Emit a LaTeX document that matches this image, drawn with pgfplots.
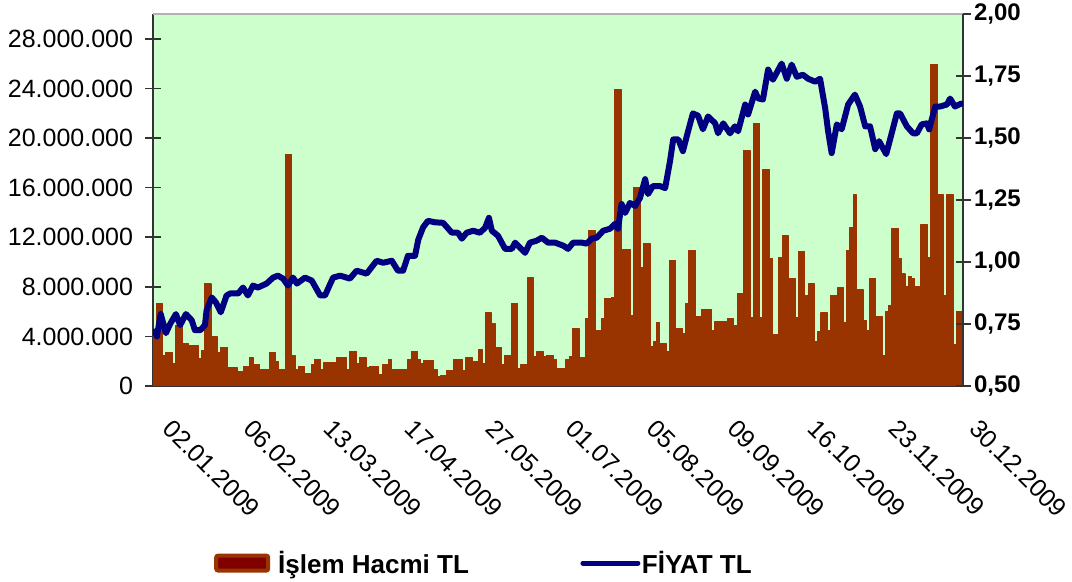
\documentclass[border=0pt]{standalone}
\usepackage{fontspec}
\setmainfont{Liberation Sans}
\usepackage{pgfplots}
\pgfplotsset{compat=1.18}
\usepackage{pgfplotstable}
\definecolor{bgc}{HTML}{CCFFCC}
\definecolor{barc}{HTML}{993300}
\definecolor{innerc}{HTML}{800000}
\definecolor{navyc}{HTML}{000080}
\pgfplotstableread{
i v
0 3950000
1 6680000
2 6680000
3 2490000
4 2670000
5 2670000
6 1800000
7 4890000
8 4890000
9 3420000
10 3420000
11 3290000
12 3290000
13 3290000
14 2220000
15 2890000
16 8230000
17 8230000
18 3950000
19 3950000
20 2670000
21 3100000
22 3100000
23 1510000
24 1510000
25 1510000
26 1160000
27 1160000
28 1560000
29 1560000
30 2300000
31 1740000
32 1740000
33 1290000
34 1290000
35 1290000
36 2670000
37 2670000
38 1960000
39 1290000
40 1290000
41 18660000
42 18660000
43 2490000
44 1290000
45 1560000
46 1560000
47 1020000
48 1020000
49 1690000
50 2140000
51 2140000
52 1290000
53 1870000
54 1870000
55 1870000
56 1870000
57 2300000
58 2300000
59 2300000
60 1290000
61 2800000
62 2800000
63 1820000
64 2300000
65 2300000
66 1510000
67 1560000
68 1560000
69 1560000
70 900000
71 1690000
72 1690000
73 2140000
74 1290000
75 1290000
76 1290000
77 1290000
78 1290000
79 2140000
80 2800000
81 2800000
82 2140000
83 1820000
84 2080000
85 2030000
86 2030000
87 1330000
88 750000
89 800000
90 800000
91 1280000
92 1280000
93 2140000
94 2140000
95 2140000
96 1280000
97 2300000
98 2300000
99 1960000
100 1960000
101 2940000
102 1820000
103 5880000
104 5880000
105 5030000
106 3100000
107 3100000
108 1690000
109 2490000
110 2490000
111 6680000
112 6680000
113 1420000
114 1690000
115 1690000
116 8710000
117 8710000
118 2350000
119 2750000
120 2750000
121 2350000
122 2430000
123 2430000
124 2140000
125 1420000
126 1420000
127 1420000
128 2140000
129 2350000
130 4650000
131 4650000
132 2270000
133 2270000
134 5430000
135 12570000
136 12570000
137 4490000
138 4490000
139 5430000
140 7030000
141 7030000
142 7160000
143 23900000
144 23900000
145 11040000
146 11040000
147 11040000
148 5690000
149 16040000
150 16040000
151 9570000
152 11500000
153 11500000
154 3150000
155 3550000
156 5110000
157 3420000
158 3420000
159 2750000
160 10100000
161 10100000
162 4620000
163 4620000
164 4220000
165 6680000
166 10900000
167 10900000
168 5600000
169 5600000
170 6200000
171 6200000
172 6200000
173 4490000
174 5160000
175 5160000
176 5160000
177 5160000
178 5430000
179 5430000
180 4890000
181 7480000
182 7480000
183 18980000
184 18980000
185 5500000
186 21200000
187 21200000
188 5500000
189 17460000
190 17460000
191 10300000
192 4170000
193 4170000
194 10350000
195 12100000
196 12100000
197 8700000
198 8700000
199 5500000
200 10850000
201 10850000
202 7300000
203 8230000
204 8230000
205 3550000
206 4360000
207 5880000
208 5880000
209 4490000
210 7300000
211 7300000
212 7910000
213 7910000
214 5080000
215 10900000
216 12780000
217 15400000
218 7800000
219 7800000
220 5300000
221 4490000
222 8700000
223 8700000
224 5600000
225 5600000
226 2490000
227 6040000
228 6500000
229 12700000
230 12700000
231 10250000
232 9040000
233 8000000
234 8800000
235 8700000
236 8000000
237 8000000
238 13000000
239 13000000
240 10350000
241 25900000
242 25900000
243 15400000
244 15400000
245 7300000
246 15400000
247 15400000
248 3350000
249 6040000
250 6040000
}\voltable
\begin{document}
\begin{tikzpicture}
\useasboundingbox (0,0) rectangle (1072bp,582bp);
\begin{axis}[
  at={(153bp,196bp)}, anchor=south west,
  width=810bp, height=372bp, scale only axis,
  xmin=-0.5, xmax=250.5, ymin=0, ymax=30000000,
  axis x line*=bottom, axis y line*=left,
  axis line style={-, black!80, line width=1.5bp},
  axis background/.style={fill=bgc},
  xtick={0,25,...,250},
  xticklabels={02.01.2009,06.02.2009,13.03.2009,17.04.2009,27.05.2009,01.07.2009,05.08.2009,09.09.2009,16.10.2009,23.11.2009,30.12.2009},
  x tick style={draw=none},
  xticklabel style={rotate=-45, anchor=north west, xshift=22bp, yshift=5bp},
  ytick={0,4000000,8000000,12000000,16000000,20000000,24000000,28000000},
  scaled y ticks=false,
  yticklabel style={/pgf/number format/1000 sep={.}, /pgf/number format/fixed, xshift=-9bp},
  /pgf/number format/assume math mode=true,
  tick label style={font=\fontsize{25bp}{29bp}\selectfont},
  y tick style={black!80, line width=1.5bp},
  tick align=center, major tick length=15bp,
  ybar, bar width=1,
]
\addplot[fill=barc, draw=barc, line width=1.2bp, line join=round, bar shift=0] table[x=i, y=v] {\voltable};
\end{axis}
\begin{axis}[
  at={(153bp,196bp)}, anchor=south west,
  width=810bp, height=372bp, scale only axis,
  xmin=-0.5, xmax=250.5, ymin=0.5, ymax=2,
  axis x line*=top, axis y line*=right,
  x axis line style={-, gray!60, line width=1.5bp},
  y axis line style={-, black!80, line width=1.5bp},
  xtick=\empty,
  ytick={0.5,0.75,1,1.25,1.5,1.75,2},
  yticklabel style={/pgf/number format/fixed, /pgf/number format/fixed zerofill, /pgf/number format/precision=2, /pgf/number format/use comma, font=\bfseries\fontsize{24bp}{28bp}\selectfont},
  /pgf/number format/assume math mode=true,
  y tick style={black!80, line width=1.5bp},
  tick align=center, major tick length=15bp,
  legend columns=2,
  legend cell align=left,
  legend style={at={(axis description cs:0.0753,-0.476)}, anchor=west, draw=none, fill=none, inner sep=0pt,
    font=\bfseries\fontsize{26bp}{30bp}\selectfont,
    /tikz/every odd column/.append style={column sep=0bp},
    /tikz/every even column/.append style={column sep=112bp}},
]
\addlegendimage{legend image code/.code={\draw[draw=barc, fill=innerc, line width=4bp, rounded corners=2bp] (0bp,-7.5bp) rectangle (52bp,7.5bp); \path[draw=none, fill=none] (0bp,0bp) rectangle (60bp,0.1bp);}}
\addlegendentry{İşlem Hacmi TL}
\addplot[navyc, line width=6bp, line join=round, line cap=round,
  legend image code/.code={\draw[navyc, line width=5bp, line cap=round, overlay] (0bp,0bp) -- (55bp,0bp); \path[draw=none, fill=none] (0bp,-2bp) rectangle (57bp,2bp);}] coordinates {
(0,0.72) (0.7,0.70) (1.9,0.79) (3.5,0.713) (4.8,0.75) (6.6,0.79) (7.9,0.745) (9.7,0.79) (11.5,0.765) (12.5,0.725) (14.1,0.725) (15.6,0.745) (16.1,0.805) (17.7,0.857) (19,0.837) (20.5,0.797) (22.3,0.865) (23.4,0.873) (25.9,0.873) (27.4,0.897) (28.9,0.865) (30.5,0.905) (32,0.897) (34.7,0.913) (36.7,0.937) (38.2,0.945) (39.8,0.933) (41.3,0.905) (42.9,0.937) (44.1,0.913) (46.6,0.937) (48.7,0.925) (51.3,0.865) (52.8,0.865) (55.3,0.937) (57.5,0.945) (60.5,0.933) (62.6,0.965) (65.7,0.953) (68.8,1.005) (70.8,0.997) (73.5,1.005) (75.4,0.965) (77,0.965) (78.5,1.025) (80.7,1.025) (81.7,1.09) (83.2,1.14) (84.7,1.166) (86.9,1.16) (89.4,1.158) (92.1,1.118) (94,1.118) (95.2,1.094) (96.7,1.118) (98.7,1.126) (100.8,1.118) (102.4,1.138) (103.6,1.178) (104.5,1.126) (106.4,1.106) (108.6,1.053) (110.7,1.053) (111.7,1.078) (113.2,1.058) (114.8,1.037) (116.3,1.078) (118.4,1.086) (120,1.098) (121.9,1.078) (124.1,1.078) (126.6,1.066) (128.1,1.053) (129.7,1.078) (132.4,1.078) (133.9,1.074) (135.4,1.094) (137,1.098) (139,1.126) (141.1,1.134) (142.7,1.154) (143.6,1.134) (144.7,1.234) (145.8,1.198) (147.3,1.238) (148.9,1.226) (150.4,1.258) (152,1.334) (152.9,1.274) (154.4,1.306) (156.6,1.306) (158.2,1.298) (159.7,1.406) (160.7,1.494) (162.3,1.494) (163.7,1.447) (165.3,1.527) (166.8,1.599) (168.4,1.59) (169.9,1.535) (171.5,1.587) (173.7,1.559) (174.6,1.519) (176.2,1.559) (178.3,1.519) (179.8,1.547) (180.8,1.527) (183,1.635) (183.9,1.595) (186.1,1.687) (187,1.66) (188.5,1.655) (190.1,1.776) (191.6,1.735) (194.3,1.80) (195.9,1.739) (197.4,1.796) (199,1.747) (200.9,1.755) (202.5,1.739) (204.7,1.727) (206.2,1.739) (207.8,1.619) (208.7,1.527) (209.8,1.439) (211.4,1.555) (212.9,1.535) (214.9,1.635) (217,1.675) (218.6,1.627) (220.2,1.547) (221.7,1.547) (223.3,1.455) (224.5,1.487) (226.7,1.435) (228.4,1.519) (230,1.599) (231,1.599) (233.1,1.547) (235,1.519) (236.2,1.519) (237.7,1.555) (239.3,1.559) (240,1.535) (241.9,1.627) (243.4,1.627) (245.5,1.635) (246.5,1.659) (248,1.627) (250,1.639)
};
\addlegendentry{FİYAT TL}
\end{axis}
\end{tikzpicture}
\end{document}
